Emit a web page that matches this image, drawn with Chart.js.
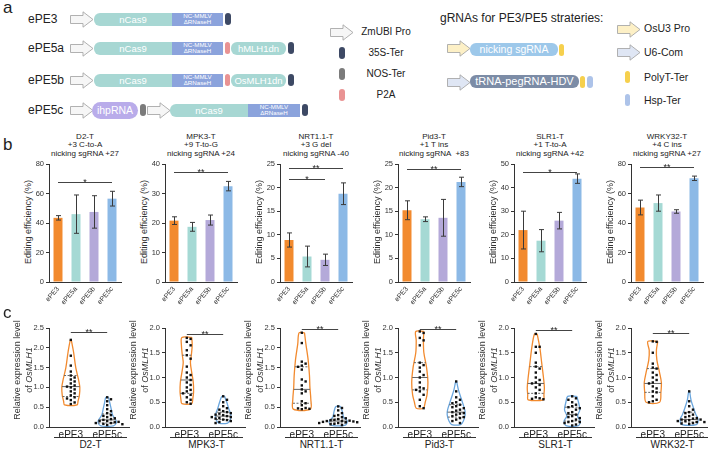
<!DOCTYPE html>
<html lang="en">
<head>
<meta charset="UTF-8">
<title>ePE5 prime editing</title>
<script src="https://cdn.jsdelivr.net/npm/chart.js"></script>
<style>
  body { margin: 0; background: #fff; font-family: Arial, "Liberation Sans", sans-serif; color: #222; }
  #fig { position: relative; width: 708px; height: 450px; overflow: hidden; }
  #fig div, #fig canvas { position: absolute; }
  .panel { font-size: 17px; line-height: 17px; }
  .part { color: #fff; text-align: center; white-space: nowrap; overflow: hidden; }
  .leg { font-size: 10px; line-height: 12px; color: #222; white-space: nowrap; }
  .ttl { font-size: 8px; line-height: 8.3px; text-align: center; width: 110px; white-space: pre; color: #222; }
  .ytl { font-size: 9px; line-height: 12px; text-align: center; width: 130px; transform: rotate(-90deg); white-space: nowrap; color: #333; }
  .grp { border-top: 1px solid #333; font-size: 10px; line-height: 11px; text-align: center; padding-top: 1px; color: #222; }
</style>
</head>
<body>
<div id="fig"></div>
<script>
// panel b: editing efficiency
const groups = ['ePE3', 'ePE5a', 'ePE5b', 'ePE5c'];
const targets = ['D2-T', 'MPK3-T', 'NRT1.1-T', 'Pid3-T', 'SLR1-T', 'WRKY32-T'];
const edits = ['+3 C-to-A', '+9 T-to-G', '+3 G del', '+1 T ins', '+1 T-to-A', '+4 C ins'];
const nicks = ['nicking sgRNA +27', 'nicking sgRNA +24', 'nicking sgRNA -40', 'nicking sgRNA  +83', 'nicking sgRNA +42', 'nicking sgRNA +27'];
const yMax = [80, 40, 25, 25, 50, 80];
const yStep = [20, 10, 5, 5, 10, 20];
const meanEff = [[43.5, 46, 47.5, 56.5], [20.8, 18.7, 21, 32.5], [8.9, 5.4, 4.7, 18.7], [15.2, 13.3, 13.6, 21.2], [22, 17.5, 26, 43.8], [50.5, 53.5, 47.8, 70.3]];
const sdEff = [[1.5, 13, 11, 5], [1.3, 1.5, 1.7, 1.6], [1.5, 2.2, 1.2, 2.3], [2, 0.5, 3.9, 1], [8, 4.7, 3.5, 2], [5, 5.5, 1.2, 1.5]];
const sigEff = [[[0, 3, 68, '*']], [[0, 3, 37.3, '**']], [[0, 3, 24.2, '**'], [0, 2, 21.8, '*']], [[0, 3, 23.9, '**']], [[0, 3, 46.6, '*']], [[0, 3, 78, '**']]];
const barColors = ['#f28a2e', '#a5d9d4', '#b4a9d9', '#8cb9e6'];

// panel c: OsMLH1 expression
const exprTargets = ['D2-T', 'MPK3-T', 'NRT1.1-T', 'Pid3-T', 'SLR1-T', 'WRK32-T'];
const exprMax = [2.5, 2.0, 2.5, 2.0, 2.0, 2.0];
const exprPE3 = [
  [2.2, 1.8, 1.55, 1.4, 1.3, 1.25, 1.2, 1.15, 1.1, 1.05, 1.02, 1.0, 0.95, 0.9, 0.85, 0.8, 0.75, 0.72, 0.68, 0.62, 0.58],
  [1.8, 1.78, 1.72, 1.65, 1.55, 1.45, 1.38, 1.22, 1.1, 1.05, 1.0, 0.95, 0.9, 0.85, 0.8, 0.75, 0.72, 0.68, 0.65, 0.6, 0.55, 0.5, 0.47],
  [2.38, 2.12, 1.65, 1.6, 1.55, 1.52, 1.45, 1.2, 1.15, 1.05, 0.95, 0.9, 0.85, 0.65, 0.6, 0.55, 0.48, 0.47, 0.46, 0.45],
  [1.93, 1.9, 1.8, 1.75, 1.65, 1.3, 1.25, 1.2, 1.12, 1.05, 1.0, 0.9, 0.8, 0.78, 0.75, 0.72, 0.65, 0.55, 0.42, 0.38],
  [1.88, 1.62, 1.62, 1.5, 1.3, 1.22, 1.18, 1.1, 1.0, 0.95, 0.9, 0.88, 0.85, 0.8, 0.75, 0.68, 0.6, 0.58, 0.57, 0.56],
  [1.73, 1.72, 1.5, 1.28, 1.2, 1.18, 1.1, 1.05, 1.0, 0.95, 0.9, 0.88, 0.82, 0.78, 0.72, 0.7, 0.62, 0.55, 0.52, 0.5]
];
const exprPE5c = [
  [0.75, 0.7, 0.65, 0.55, 0.45, 0.4, 0.35, 0.3, 0.28, 0.25, 0.22, 0.2, 0.18, 0.15, 0.15, 0.13, 0.12, 0.1, 0.1, 0.08, 0.07, 0.05],
  [0.62, 0.55, 0.5, 0.42, 0.38, 0.35, 0.32, 0.3, 0.28, 0.27, 0.25, 0.24, 0.22, 0.2, 0.2, 0.18, 0.17, 0.15, 0.14, 0.12, 0.1, 0.08],
  [0.52, 0.48, 0.42, 0.35, 0.3, 0.28, 0.25, 0.22, 0.2, 0.18, 0.17, 0.16, 0.15, 0.15, 0.14, 0.13, 0.12, 0.12, 0.1, 0.1, 0.08, 0.07, 0.05],
  [0.92, 0.72, 0.6, 0.55, 0.5, 0.48, 0.45, 0.42, 0.4, 0.38, 0.35, 0.33, 0.3, 0.28, 0.27, 0.25, 0.22, 0.2, 0.18, 0.15, 0.12, 0.08],
  [0.62, 0.58, 0.55, 0.5, 0.45, 0.42, 0.4, 0.38, 0.35, 0.3, 0.28, 0.25, 0.22, 0.2, 0.18, 0.15, 0.12, 0.1, 0.1, 0.08, 0.05, 0.03],
  [0.72, 0.52, 0.42, 0.35, 0.3, 0.28, 0.25, 0.22, 0.2, 0.18, 0.17, 0.15, 0.15, 0.14, 0.12, 0.12, 0.1, 0.1, 0.08, 0.07, 0.06]
];
// violin outlines: [value, relative width], top to bottom
const shapePE3 = [
  [[2.2, 0.05], [1.9, 0.3], [1.5, 0.55], [1.2, 0.85], [1.0, 1.0], [0.8, 0.95], [0.65, 0.8], [0.56, 0.7]],
  [[1.81, 0.55], [1.65, 0.6], [1.45, 0.5], [1.3, 0.4], [1.1, 0.55], [0.9, 0.72], [0.7, 0.75], [0.55, 0.65], [0.47, 0.55]],
  [[2.38, 0.3], [2.1, 0.45], [1.7, 0.7], [1.3, 0.85], [1.0, 0.9], [0.7, 1.0], [0.45, 0.95]],
  [[1.93, 0.45], [1.75, 0.4], [1.5, 0.45], [1.2, 0.75], [0.9, 0.9], [0.65, 0.8], [0.5, 0.6], [0.38, 0.4]],
  [[1.88, 0.15], [1.6, 0.45], [1.3, 0.65], [1.0, 0.85], [0.8, 0.95], [0.65, 0.9], [0.55, 0.85]],
  [[1.73, 0.55], [1.55, 0.4], [1.35, 0.45], [1.1, 0.75], [0.9, 0.95], [0.7, 0.9], [0.5, 0.75]]
];
const shapePE5c = [
  [[0.75, 0.15], [0.6, 0.3], [0.45, 0.45], [0.3, 0.6], [0.18, 0.95], [0.1, 1.0], [0.03, 0.7]],
  [[0.62, 0.15], [0.5, 0.4], [0.38, 0.6], [0.25, 0.85], [0.15, 0.8], [0.08, 0.5]],
  [[0.52, 0.25], [0.4, 0.45], [0.25, 0.6], [0.15, 1.0], [0.05, 0.8]],
  [[0.92, 0.05], [0.75, 0.25], [0.55, 0.6], [0.35, 0.95], [0.25, 1.0], [0.12, 0.8], [0.05, 0.5]],
  [[0.62, 0.5], [0.5, 0.7], [0.35, 0.85], [0.22, 0.6], [0.12, 0.9], [0.03, 0.7]],
  [[0.72, 0.05], [0.55, 0.2], [0.4, 0.45], [0.25, 0.75], [0.15, 1.0], [0.05, 0.8]]
];
const quartPE3 = [[0.77, 1.02, 1.3], [0.68, 0.95, 1.45], [0.6, 0.95, 1.52], [0.75, 1.0, 1.3], [0.68, 0.88, 1.22], [0.7, 0.88, 1.18]];
const quartPE5c = [[0.1, 0.18, 0.33], [0.15, 0.22, 0.3], [0.1, 0.15, 0.2], [0.2, 0.3, 0.45], [0.12, 0.25, 0.4], [0.1, 0.15, 0.3]];
const sigExpr = [2.4, 1.88, 2.48, 1.97, 1.96, 1.9];

const AX = [49, 165, 280, 398, 514, 631];   // y-axis x position of each column
const PXX = 80 / 2.2, VW = 9 / PXX;

Chart.defaults.font.family = 'Arial, "Liberation Sans", sans-serif';

const fig = document.getElementById('fig');
function put(cls, html, x, y, css) {
  const d = document.createElement('div');
  if (cls) d.className = cls;
  d.innerHTML = html;
  d.style.left = x + 'px';
  d.style.top = y + 'px';
  Object.assign(d.style, css || {});
  fig.appendChild(d);
  return d;
}
function arrow(x, yc, fill) {
  put('', '<svg width="24" height="17"><path d="M0.5 4.5H13V0.8L23 8.5L13 16.2V12.5H0.5Z" fill="' + fill +
    '" stroke="#a8a8a8" stroke-width="0.9"/></svg>', x, yc - 8.5, { width: '24px', height: '17px' });
}
function part(x, yc, w, h, bg, text, fs, radius) {
  put('part', text, x, yc - h / 2, { width: w + 'px', height: h + 'px', background: bg, borderRadius: radius, fontSize: fs + 'px', lineHeight: h + 'px' });
}
function mmlv(x, yc, w) {
  put('part', 'NC-MMLV<br>&Delta;RNaseH', x, yc - 6.5, { width: w + 'px', height: '13px', background: '#8ba3dc', fontSize: '6.2px', lineHeight: '6.3px', paddingTop: '0.3px', boxSizing: 'border-box' });
}
function canvasAt(x, y, w, h) {
  const c = document.createElement('canvas');
  c.width = w; c.height = h;
  c.style.left = x + 'px';
  c.style.top = y + 'px';
  fig.appendChild(c);
  return c;
}

// ---- panel a ----
const TEAL = '#a7d7d3', T35S = '#3d4964', NOS = '#7b7b7b', P2A = '#e99393', YEL = '#f6d04d', HSP = '#adc3e9';
put('panel', 'a', 3, -1);
[['ePE3', 19], ['ePE5a', 48], ['ePE5b', 80], ['ePE5c', 110]].forEach(([n, y]) =>
  put('leg', n, 28, y - 7, { fontSize: '12px', lineHeight: '14px' }));
[19, 48, 80].forEach((y, k) => {
  arrow(70, y, '#f6f6f6');
  part(94, y, 78, 13, TEAL, 'nCas9', 9.5, '6px 0 0 6px');
  mmlv(172, y, 51);
  if (k === 0) {
    part(225, y, 6, 12, T35S, '', 1, '3px');
  } else {
    part(225, y, 5, 12, P2A, '', 1, '2.5px');
    part(231, y, 55, 13, TEAL, k === 1 ? 'hMLH1dn' : 'OsMLH1dn', 9.5, '6px');
    part(288, y, 6, 12, T35S, '', 1, '3px');
  }
});
arrow(70, 110, '#f6f6f6');
part(92, 110, 46, 17, '#b9acea', 'ihpRNA', 10.5, '8.5px');
part(140, 110, 6, 12, NOS, '', 1, '3px');
arrow(147, 110, '#f6f6f6');
part(170, 110, 78, 13, TEAL, 'nCas9', 9.5, '6px 0 0 6px');
mmlv(248, 110, 52);
part(302, 110, 6, 12, T35S, '', 1, '3px');

arrow(330, 32, '#f6f6f6');
put('leg', 'ZmUBI Pro', 356, 26, { width: '60px', textAlign: 'center' });
part(339, 53, 6, 12, T35S, '', 1, '3px');
put('leg', '35S-Ter', 356, 47, { width: '60px', textAlign: 'center' });
part(339, 74, 6, 12, NOS, '', 1, '3px');
put('leg', 'NOS-Ter', 356, 68, { width: '60px', textAlign: 'center' });
part(339, 95, 6, 12, P2A, '', 1, '3px');
put('leg', 'P2A', 356, 89, { width: '60px', textAlign: 'center' });

put('leg', 'gRNAs for PE3/PE5 strateries:', 440, 11, { fontSize: '12px', lineHeight: '14px' });
arrow(447, 48, '#fdf0c6');
part(470, 49.5, 88, 13, '#9dc8ea', 'nicking sgRNA', 10.5, '6px');
part(559, 49.5, 5, 12, YEL, '', 1, '2.5px');
arrow(447, 82, '#dfe6f4');
part(470, 81.5, 109, 13, '#7c8ca6', 'tRNA-pegRNA-HDV', 11, '6px');
part(580, 81.5, 5, 12, YEL, '', 1, '2.5px');
part(587, 81.5, 6, 12, HSP, '', 1, '3px');
arrow(617, 29, '#fdf0c6');
put('leg', 'OsU3 Pro', 644, 22, { fontSize: '10.5px' });
arrow(617, 52, '#dfe6f4');
put('leg', 'U6-Com', 644, 46, { fontSize: '10.5px' });
part(625, 77, 5, 12, YEL, '', 1, '2.5px');
put('leg', 'PolyT-Ter', 644, 71, { fontSize: '10.5px' });
part(625, 100, 5, 12, HSP, '', 1, '3px');
put('leg', 'Hsp-Ter', 644, 94, { fontSize: '10.5px' });

// ---- plugins ----
const errBars = {
  id: 'errBars',
  afterDatasetsDraw(chart) {
    const { ctx, scales: { y } } = chart;
    chart.data.datasets.forEach((ds, di) => {
      if (!ds.errors) return;
      chart.getDatasetMeta(di).data.forEach((bar, k) => {
        const v = ds.data[k], e = ds.errors[k];
        const y1 = y.getPixelForValue(v + e), y2 = y.getPixelForValue(v - e);
        const x = Math.round(bar.x) + 0.5;
        ctx.save();
        ctx.strokeStyle = '#3a3a3a';
        ctx.lineWidth = 1;
        ctx.beginPath();
        ctx.moveTo(x, y1); ctx.lineTo(x, y2);
        ctx.moveTo(x - 2.5, y1); ctx.lineTo(x + 2.5, y1);
        ctx.moveTo(x - 2.5, y2); ctx.lineTo(x + 2.5, y2);
        ctx.stroke();
        ctx.restore();
      });
    });
  }
};
const sigMarks = {
  id: 'sig',
  afterDraw(chart, args, opts) {
    const { ctx, scales: { x, y } } = chart;
    (opts.lines || []).forEach(([a, b, v, t]) => {
      const yy = Math.round(y.getPixelForValue(v)) + 0.5;
      const xa = x.getPixelForValue(a), xb = x.getPixelForValue(b);
      ctx.save();
      ctx.strokeStyle = '#444';
      ctx.lineWidth = 1;
      ctx.beginPath(); ctx.moveTo(xa, yy); ctx.lineTo(xb, yy); ctx.stroke();
      ctx.fillStyle = '#222';
      ctx.font = '9px Arial';
      ctx.textAlign = 'center';
      ctx.textBaseline = 'alphabetic';
      ctx.fillText(t, (xa + xb) / 2, yy + 2);
      ctx.restore();
    });
  }
};

// ---- panel b ----
put('panel', 'b', 3, 136);
targets.forEach((t, i) => {
  put('ttl', t + '\n' + edits[i] + '\n' + nicks[i], AX[i] + 36 - 55, 133);
  put('ytl', 'Editing efficiency (%)', AX[i] - 21 - 65, 216, { height: '12px' });
  new Chart(canvasAt(AX[i] - 46, 150, 122, 158), {
    type: 'bar',
    data: { labels: groups, datasets: [{ data: meanEff[i], errors: sdEff[i], backgroundColor: barColors, barPercentage: 0.5, categoryPercentage: 1 }] },
    options: {
      responsive: false, animation: false, events: [],
      layout: { padding: { top: 14, right: 4, bottom: 2, left: 0 } },
      plugins: { legend: { display: false }, tooltip: { enabled: false }, sig: { lines: sigEff[i] } },
      scales: {
        x: {
          grid: { display: false, drawTicks: false }, border: { color: '#333' },
          ticks: { color: '#333', font: { size: 7 }, minRotation: 50, maxRotation: 50, padding: 3, autoSkip: false },
          afterFit: s => { s.height = 24; }
        },
        y: {
          min: 0, max: yMax[i],
          grid: { drawOnChartArea: false, tickLength: 3, color: '#333' }, border: { color: '#333' },
          ticks: { stepSize: yStep[i], color: '#333', font: { size: 7.5 }, padding: 2 },
          afterFit: s => { s.width = 46; }
        }
      }
    },
    plugins: [errBars, sigMarks]
  });
});

// ---- panel c ----
function halfAt(shape, v) {
  if (v >= shape[0][0]) return shape[0][1] * VW;
  for (let k = 0; k < shape.length - 1; k++) {
    const [v1, d1] = shape[k], [v2, d2] = shape[k + 1];
    if (v <= v1 && v >= v2) return (d1 + (d2 - d1) * (v1 - v) / (v1 - v2)) * VW;
  }
  return shape[shape.length - 1][1] * VW;
}
function swarm(vals, c, pxy) {
  const placed = [], gap = 3.8;
  return vals.map(v => {
    const py = v * pxy;
    for (let k = 0; ; k++) {
      const off = (k % 2 ? 1 : -1) * Math.ceil(k / 2) * gap;
      if (placed.every(([ox, oy]) => Math.hypot(ox - off, oy - py) >= gap)) {
        placed.push([off, py]);
        return { x: c + off / PXX, y: v };
      }
    }
  });
}

put('panel', 'c', 3, 304);
exprTargets.forEach((t, i) => {
  put('ytl', 'Relative expression level<br>of <i>OsMLH1</i>', AX[i] - 26 - 65, 358, { height: '24px' });
  put('grp', t, AX[i] + 5, 437, { width: '73px' });
  const pxy = 99 / exprMax[i];
  const sets = [];
  [[exprPE3, shapePE3, quartPE3, '#f28a2e'], [exprPE5c, shapePE5c, quartPE5c, '#6aa6de']].forEach(([pts, shp, q, col], g) => {
    const c = g + 1, shape = shp[i];
    const right = shape.map(([v, d]) => ({ x: c + d * VW, y: v }));
    const left = shape.slice().reverse().map(([v, d]) => ({ x: c - d * VW, y: v }));
    sets.push({ data: right.concat(left, [right[0]]), showLine: true, borderColor: col, borderWidth: 1.3, pointRadius: 0, tension: 0.3, order: 2 });
    q[i].forEach((v, k) => {
      const h = halfAt(shape, v);
      sets.push({ data: [{ x: c - h, y: v }, { x: c + h, y: v }], showLine: true, borderColor: '#666', borderWidth: 1,
        borderDash: k === 1 ? [] : [2, 1.5], pointRadius: 0, order: 1 });
    });
    sets.push({ data: swarm(pts[i], c, pxy), pointStyle: 'rect', pointRadius: 1.7, backgroundColor: '#111', borderWidth: 0, order: 0 });
  });
  new Chart(canvasAt(AX[i] - 50, 318, 134, 124), {
    type: 'scatter',
    data: { datasets: sets },
    options: {
      responsive: false, animation: false, events: [],
      layout: { padding: { top: 10, right: 4, bottom: 1, left: 0 } },
      plugins: { legend: { display: false }, tooltip: { enabled: false }, sig: { lines: [[1, 2, sigExpr[i], '**']] } },
      scales: {
        x: {
          type: 'linear', min: 0.4, max: 2.6,
          afterBuildTicks: s => { s.ticks = [{ value: 1 }, { value: 2 }]; },
          grid: { display: false, drawTicks: false }, border: { color: '#333' },
          ticks: { color: '#222', font: { size: 10 }, padding: 2, callback: v => (v === 1 ? 'ePE3' : 'ePE5c') },
          afterFit: s => { s.height = 14; }
        },
        y: {
          min: 0, max: exprMax[i],
          grid: { drawOnChartArea: false, tickLength: 3, color: '#333' }, border: { color: '#333' },
          ticks: { stepSize: 0.5, color: '#333', font: { size: 7.5 }, padding: 2, callback: v => v.toFixed(1) },
          afterFit: s => { s.width = 50; }
        }
      }
    },
    plugins: [sigMarks]
  });
});
</script>
</body>
</html>
